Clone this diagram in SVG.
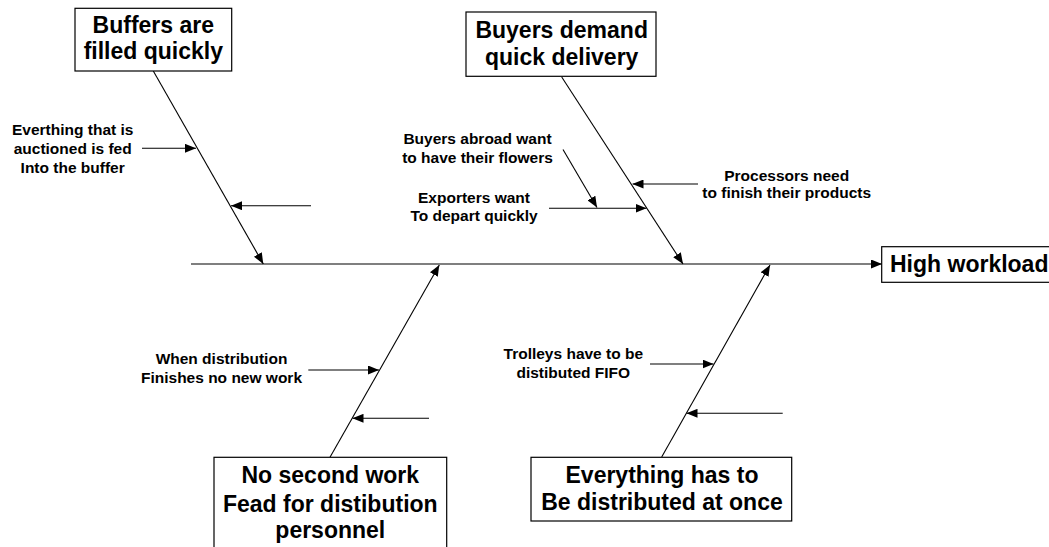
<svg xmlns="http://www.w3.org/2000/svg" width="1049" height="547" viewBox="0 0 1049 547">
<style>
.box{fill:#fff;stroke:#000;stroke-width:1.2}
.big{font-family:"Liberation Sans",Arial,sans-serif;font-weight:bold;font-size:23px;fill:#000;text-anchor:middle}
.sm{font-family:"Liberation Sans",Arial,sans-serif;font-weight:bold;font-size:15.5px;fill:#000;text-anchor:middle}
.ln{stroke:#000;stroke-width:1.1;fill:none;marker-end:url(#ah)}
</style>
<defs>
<marker id="ah" markerUnits="userSpaceOnUse" markerWidth="11" markerHeight="9" refX="11" refY="4.5" orient="auto">
<path d="M0,0 L11,4.5 L0,9 z" fill="#000"/>
</marker>
</defs>
<rect width="1049" height="547" fill="#fff"/>
<g id="connectors">
<line class="ln" x1="191" y1="264" x2="882" y2="264"/>
<line class="ln" x1="153.3" y1="71" x2="263.3" y2="264"/>
<line class="ln" x1="561.7" y1="77" x2="683" y2="264"/>
<line class="ln" x1="330" y1="457.3" x2="439.3" y2="265"/>
<line class="ln" x1="661.7" y1="457" x2="770" y2="265"/>
<line class="ln" x1="142" y1="148.3" x2="196" y2="148.3"/>
<line class="ln" x1="311" y1="205.7" x2="231" y2="205.7"/>
<line class="ln" x1="563" y1="149.5" x2="597" y2="207.5"/>
<line class="ln" x1="549" y1="208.3" x2="646.5" y2="208.3"/>
<line class="ln" x1="698" y1="184" x2="632.5" y2="184"/>
<line class="ln" x1="308.3" y1="370" x2="379" y2="370"/>
<line class="ln" x1="429" y1="418.3" x2="352.5" y2="418.3"/>
<line class="ln" x1="650" y1="364" x2="713.5" y2="364"/>
<line class="ln" x1="782.7" y1="413.3" x2="686.5" y2="413.3"/>
</g>
<g id="buffers">
<rect class="box" x="75" y="8.3" width="156.7" height="62.7"/>
<text class="big" x="153.3" y="33">Buffers are</text>
<text class="big" x="153.3" y="59">filled quickly</text>
</g>
<g id="buyers">
<rect class="box" x="466" y="12" width="190" height="64.3"/>
<text class="big" x="561.7" y="38">Buyers demand</text>
<text class="big" x="561.7" y="64.5">quick delivery</text>
</g>
<g id="high-workload">
<rect class="box" x="881.7" y="246.7" width="172" height="35.6"/>
<text class="big" x="890" y="271.7" style="text-anchor:start">High workload</text>
</g>
<g id="no-second-work">
<rect class="box" x="214" y="457.3" width="232.7" height="100"/>
<text class="big" x="330.3" y="483.3">No second work</text>
<text class="big" x="330.3" y="511.5">Fead for distibution</text>
<text class="big" x="330.3" y="538.3">personnel</text>
</g>
<g id="everything">
<rect class="box" x="531" y="457.3" width="260.7" height="63.7"/>
<text class="big" x="662" y="483.3">Everything has to</text>
<text class="big" x="662" y="510">Be distributed at once</text>
</g>
<g id="label-everthing">
<text class="sm" x="72.7" y="135">Everthing that is</text>
<text class="sm" x="72.7" y="154">auctioned is fed</text>
<text class="sm" x="72.7" y="173">Into the buffer</text>
</g>
<g id="label-buyers-abroad">
<text class="sm" x="477.5" y="144">Buyers abroad want</text>
<text class="sm" x="477.5" y="163">to have their flowers</text>
</g>
<g id="label-exporters">
<text class="sm" x="474" y="203">Exporters want</text>
<text class="sm" x="474" y="221">To depart quickly</text>
</g>
<g id="label-processors">
<text class="sm" x="786.7" y="181">Processors need</text>
<text class="sm" x="786.7" y="198">to finish their products</text>
</g>
<g id="label-when">
<text class="sm" x="221.5" y="364">When distribution</text>
<text class="sm" x="221.5" y="382.5">Finishes no new work</text>
</g>
<g id="label-trolleys">
<text class="sm" x="573.3" y="359.3">Trolleys have to be</text>
<text class="sm" x="573.3" y="377.7">distibuted FIFO</text>
</g>
</svg>
